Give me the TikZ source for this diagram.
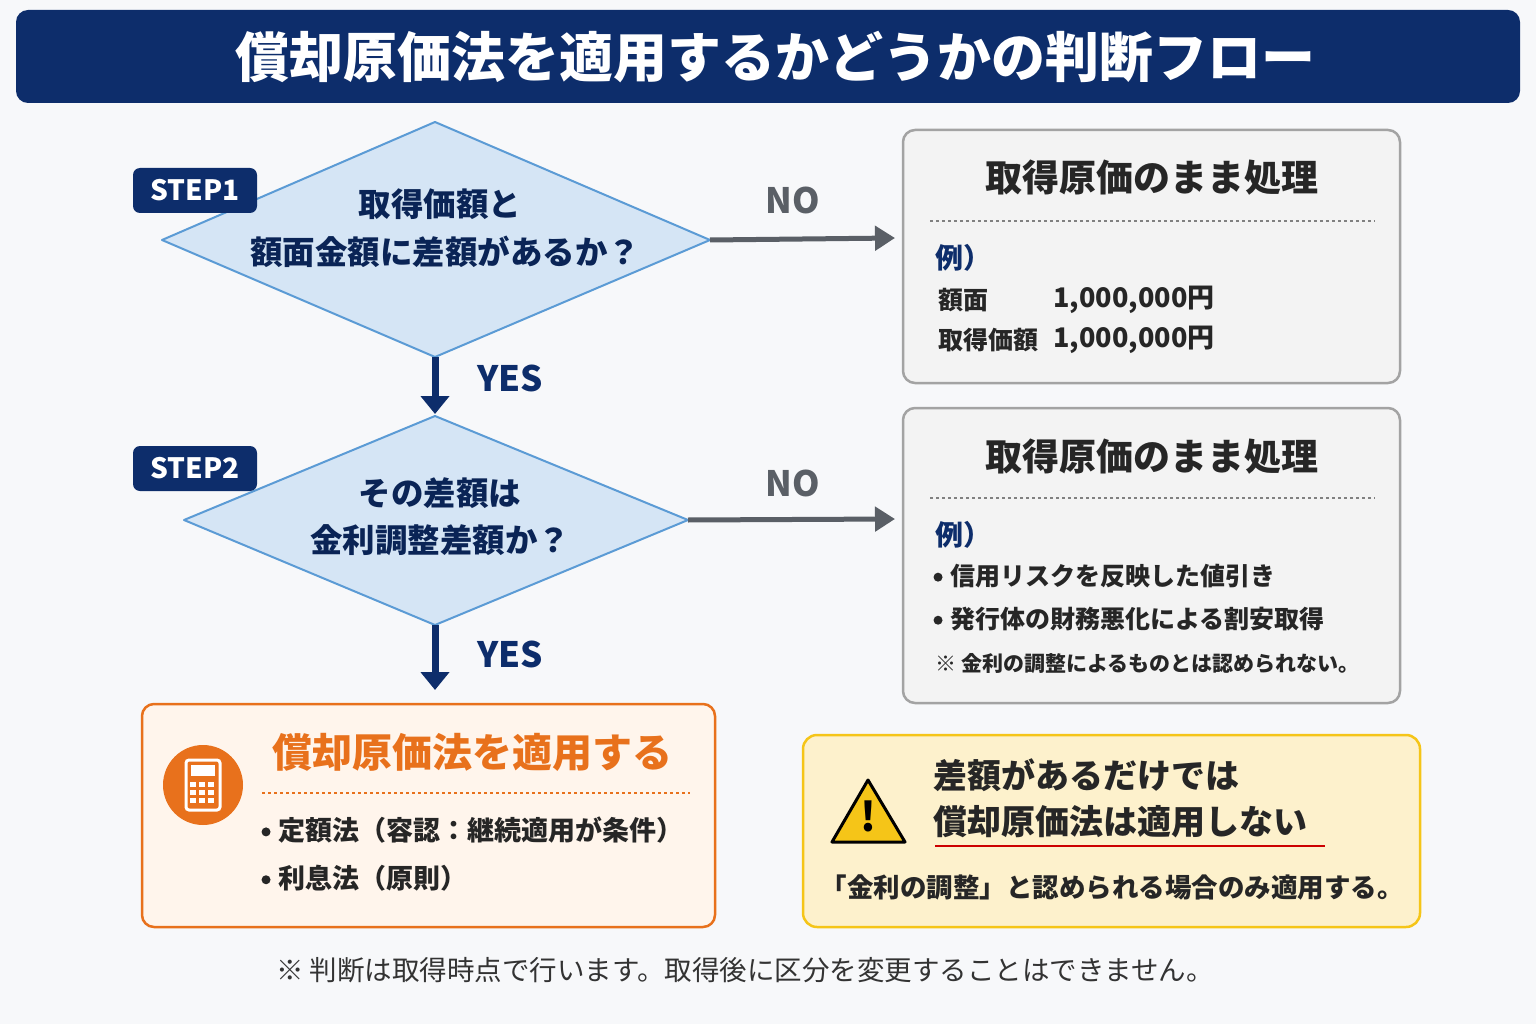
\documentclass[tikz,border=0pt]{standalone}
\usepackage{fontspec}
\setmainfont{Noto Sans CJK JP}
\usetikzlibrary{arrows.meta}
\definecolor{navy}{HTML}{0D2D6B}
\definecolor{dfill}{HTML}{D5E5F5}
\definecolor{dline}{HTML}{5B9BD5}
\definecolor{garrow}{HTML}{5A5F66}
\definecolor{gbox}{HTML}{F3F3F3}
\definecolor{gline}{HTML}{A3A3A3}
\definecolor{orng}{HTML}{E8711C}
\definecolor{ofill}{HTML}{FFF5EC}
\definecolor{yfill}{HTML}{FDF1CC}
\definecolor{yline}{HTML}{F5C518}
\definecolor{bg}{HTML}{F7F8FA}
\newcommand{\fs}[1]{\fontsize{#1}{#1}\selectfont}
\newcommand{\bul}{\raisebox{0.15em}{\tikz\fill (0,0) circle (4.5pt);}\hspace{8pt}}
\tikzset{
 dia/.style={fill=dfill,draw=dline,line width=2pt,line join=round},
 stepbox/.style={fill=navy,rounded corners=7pt},
 steptxt/.style={text=white,font=\fs{28}\bfseries},
 dtxt/.style={font=\fs{32.5}\bfseries,text=navy!80!black},
 noarr/.style={draw=garrow,line width=5pt,-{Triangle[length=20pt,width=24pt]}},
 yesarr/.style={draw=navy,line width=7pt,-{Triangle[length=18pt,width=28pt]}},
 lbl/.style={font=\fs{35}\bfseries},
 gbx/.style={fill=gbox,draw=gline,line width=2.5pt,rounded corners=12pt},
 btitle/.style={font=\fs{37}\bfseries,text=black!85},
 btxt/.style={font=\fs{25}\bfseries,text=black!85,anchor=west},
 dsh/.style={draw=gray,dashed,line width=1.2pt},
}
\begin{document}
\begin{tikzpicture}[x=1pt,y=-1pt]
\fill[bg] (0,0) rectangle (1536,1024);
\useasboundingbox (0,0) rectangle (1536,1024);
% title
\fill[navy,rounded corners=12pt] (16,10) rectangle (1520,103);
\node[text=white,font=\fs{54}\bfseries] (title) at (775,57) {償却原価法を適用するかどうかの判断フロー};
% diamond 1
\draw[dia] (162,240) coordinate (d1l) -- (435,122) -- (710,240) coordinate (d1r) -- (435,357) coordinate (d1b) -- cycle;
\node[dtxt] (d1a) at (440,204) {取得価額と};
\node[dtxt] (d1c) at (445,252) {額面金額に差額があるか？};
\fill[stepbox] (133,168) rectangle (257,213);
\node[steptxt] (s1) at (195,190) {STEP1};
% box1
\draw[gbx] (903,130) rectangle (1400,383);
\node[btitle] (b1t) at (1152,178) {取得原価のまま処理};
\draw[dsh] (930,221) -- (1375,221);
\node[btxt,text=navy,font=\fs{28}\bfseries] (b1e) at (932,258) {例）};
\node[btxt] (b1x) at (935,300) {額面};
\node[btxt,font=\fs{27}\bfseries] (b1y) at (1050,300) {1,000,000円};
\node[btxt] (b1z) at (935,340) {取得価額};
\node[btxt,font=\fs{27}\bfseries] (b1w) at (1050,340) {1,000,000円};
\draw[noarr] (d1r) -- (895,238);
\node[lbl,text=garrow] (no1) at (793,200) {NO};
% yes1
\draw[yesarr] (d1b) -- (435,414);
\node[lbl,text=navy] (yes1) at (510,378) {YES};
% diamond 2
\draw[dia] (184,520) -- (435,416) -- (688,520) coordinate (d2r) -- (435,625) coordinate (d2b) -- cycle;
\node[dtxt] (d2a) at (440,493) {その差額は};
\node[dtxt] (d2c) at (440,540) {金利調整差額か？};
\fill[stepbox] (133,446) rectangle (257,491);
\node[steptxt] (s2) at (195,468) {STEP2};
% box2
\draw[gbx] (903,408) rectangle (1400,703);
\node[btitle] (b2t) at (1152,457) {取得原価のまま処理};
\draw[dsh] (930,498) -- (1375,498);
\node[btxt,text=navy,font=\fs{28}\bfseries] (b2e) at (932,535) {例）};
\node[btxt] (b2a) at (930,576) {\bul 信用リスクを反映した値引き};
\node[btxt] (b2b) at (930,619) {\bul 発行体の財務悪化による割安取得};
\node[btxt,font=\fs{21}\bfseries] (b2c) at (932,664) {※ 金利の調整によるものとは認められない。};
\draw[noarr] (d2r) -- (895,519);
\node[lbl,text=garrow] (no2) at (793,483) {NO};
% yes2
\draw[yesarr] (d2b) -- (435,690);
\node[lbl,text=navy] (yes2) at (510,654) {YES};
% orange box
\draw[fill=ofill,draw=orng,line width=2.5pt,rounded corners=12pt] (142,704) rectangle (715,927);
\fill[orng] (203,785) circle (40);
\draw[white,line width=3pt,rounded corners=3pt] (186,760) rectangle (220,810);
\fill[white] (191,765) rectangle (215,776);
\foreach \i in {0,1,2}{\foreach \j in {0,1,2}{\fill[white] (190+\i*9,782+\j*8) rectangle (196+\i*9,787+\j*8);}}
\node[font=\fs{40}\bfseries,text=orng] (ot) at (472,752) {償却原価法を適用する};
\draw[draw=orng,dashed,line width=1.5pt] (262,793) -- (690,793);
\node[btxt,font=\fs{27}\bfseries] (o1) at (258,830) {\bul 定額法（容認：継続適用が条件）};
\node[btxt,font=\fs{27}\bfseries] (o2) at (258,878) {\bul 利息法（原則）};
% yellow box
\draw[fill=yfill,draw=yline,line width=2.5pt,rounded corners=14pt] (803,735) rectangle (1420,927);
\draw[fill=yline,draw=black,line width=3pt,line join=round] (868,780) -- (905,842) -- (832,842) -- cycle;
\node[font=\fs{40}\bfseries] (excl) at (868,816) {!};
\node[font=\fs{34}\bfseries,anchor=west,text=black!85] (y1) at (930,775) {差額があるだけでは};
\node[font=\fs{34}\bfseries,anchor=west,text=black!85] (y2) at (930,822) {償却原価法は適用しない};
\draw[red!80!black,line width=2.5pt] (935,846) -- (1325,846);
\node[font=\fs{26.5}\bfseries,text=black!85] (y3) at (1112,887) {「金利の調整」と認められる場合のみ適用する。};
% footer
\node[font=\fs{27.5},text=black!80] (ft) at (745,970) {※ 判断は取得時点で行います。取得後に区分を変更することはできません。};
\end{tikzpicture}
\end{document}
